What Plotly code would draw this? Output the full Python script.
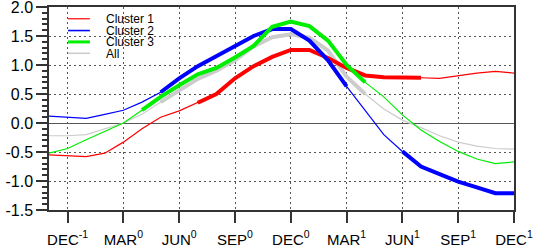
import plotly.graph_objects as go

# month index: 0 = NOV(-1) ... 25 = DEC(+1)
months = list(range(26))
tick_vals = [1, 4, 7, 10, 13, 16, 19, 22, 25]
tick_text = ["DEC<sup>-1</sup>", "MAR<sup>0</sup>", "JUN<sup>0</sup>", "SEP<sup>0</sup>",
             "DEC<sup>0</sup>", "MAR<sup>1</sup>", "JUN<sup>1</sup>", "SEP<sup>1</sup>",
             "DEC<sup>1</sup>"]
y_ticks = [-1.5, -1.0, -0.5, 0.0, 0.5, 1.0, 1.5, 2.0]

cluster1 = [-0.55, -0.56, -0.58, -0.52, -0.33, -0.10, 0.10, 0.21, 0.35, 0.50, 0.77, 0.98,
            1.14, 1.26, 1.26, 1.12, 0.95, 0.82, 0.79, 0.79, 0.78, 0.77, 0.82, 0.86, 0.89, 0.86]
cluster2 = [0.12, 0.10, 0.08, 0.15, 0.22, 0.36, 0.53, 0.77, 0.98, 1.15, 1.33, 1.50,
            1.62, 1.62, 1.42, 1.08, 0.63, 0.22, -0.20, -0.49, -0.75, -0.88, -1.01, -1.11, -1.21, -1.21]
cluster3 = [-0.52, -0.44, -0.29, -0.15, 0.00, 0.22, 0.45, 0.65, 0.84, 0.95, 1.13, 1.33,
            1.66, 1.75, 1.67, 1.42, 1.00, 0.70, 0.45, 0.14, -0.12, -0.32, -0.49, -0.62, -0.70, -0.67]
all_mean = [-0.22, -0.22, -0.20, -0.10, 0.00, 0.15, 0.36, 0.57, 0.76, 0.90, 1.08, 1.32,
            1.48, 1.53, 1.47, 1.25, 0.80, 0.50, 0.24, 0.05, -0.08, -0.22, -0.33, -0.40, -0.44, -0.45]

# significant (thick) month ranges, inclusive
sig1 = [(8, 20)]
sig2 = [(6, 16), (19, 25)]
sig3 = [(5, 17)]
sig_all = [(6, 17)]

series = [
    ("All", all_mean, sig_all, "#cccccc"),
    ("Cluster 1", cluster1, sig1, "#ff0000"),
    ("Cluster 2", cluster2, sig2, "#0000ff"),
    ("Cluster 3", cluster3, sig3, "#00ee00"),
]

fig = go.Figure()
for name, vals, sig, col in series:
    fig.add_trace(go.Scatter(x=months, y=vals, mode="lines", name=name,
                             line=dict(color=col, width=1.2), showlegend=False))
    for a, b in sig:
        yy = [v if a <= i <= b else None for i, v in enumerate(vals)]
        fig.add_trace(go.Scatter(x=months, y=yy, mode="lines", name=name,
                                 line=dict(color=col, width=4), showlegend=False,
                                 connectgaps=False))

# manual legend (paper coords)
legend_items = [("Cluster 1", "#ff0000", 1.2), ("Cluster 2", "#0000ff", 1.6),
                ("Cluster 3", "#00ee00", 3), ("All", "#cccccc", 1.6)]
leg_y = [0.942, 0.884, 0.828, 0.772]
for (lab, col, w), yy in zip(legend_items, leg_y):
    fig.add_shape(type="line", xref="paper", yref="paper", x0=0.041, x1=0.088,
                  y0=yy, y1=yy, line=dict(color=col, width=w))
    fig.add_annotation(xref="paper", yref="paper", x=0.118, y=yy, text=lab,
                       showarrow=False, xanchor="left", yanchor="middle", height=11,
                       font=dict(family="Liberation Sans", size=12, color="black"))

fig.update_layout(
    width=533, height=249, autosize=False,
    margin=dict(l=49, r=19, t=7, b=39),
    plot_bgcolor="white", paper_bgcolor="white",
    font=dict(family="Liberation Sans", color="black"),
)
fig.update_xaxes(range=[0, 25], tickvals=tick_vals, ticktext=tick_text, automargin=False,
                 ticks="outside", ticklen=11, tickwidth=1.5, tickcolor="#333",
                 ticklabeloverflow="allow", ticklabelstandoff=4,
                 showline=True, linecolor="#333", linewidth=1.5, mirror=True,
                 showgrid=True, gridcolor="#555", gridwidth=1, griddash="2px,3px",
                 zeroline=False, tickfont=dict(size=15, family="Liberation Sans"))
fig.update_yaxes(range=[-1.5, 2.0], tickvals=y_ticks, automargin=False,
                 ticktext=["%.1f" % v for v in y_ticks], ticklabeloverflow="allow",
                 ticks="outside", ticklen=11, tickwidth=1.5, tickcolor="#333",
                 minor=dict(dtick=0.1, ticks="outside", ticklen=5, tickcolor="#333",
                            showgrid=False),
                 showline=True, linecolor="#333", linewidth=1.5, mirror=True,
                 showgrid=True, gridcolor="#555", gridwidth=1, griddash="2px,3px",
                 zeroline=True, zerolinecolor="#555", zerolinewidth=1,
                 tickfont=dict(size=16, family="Liberation Sans"))

fig.write_html("out.html", config={"displayModeBar": False},
               post_script="document.body.style.margin='0';document.body.style.overflow='hidden';")
